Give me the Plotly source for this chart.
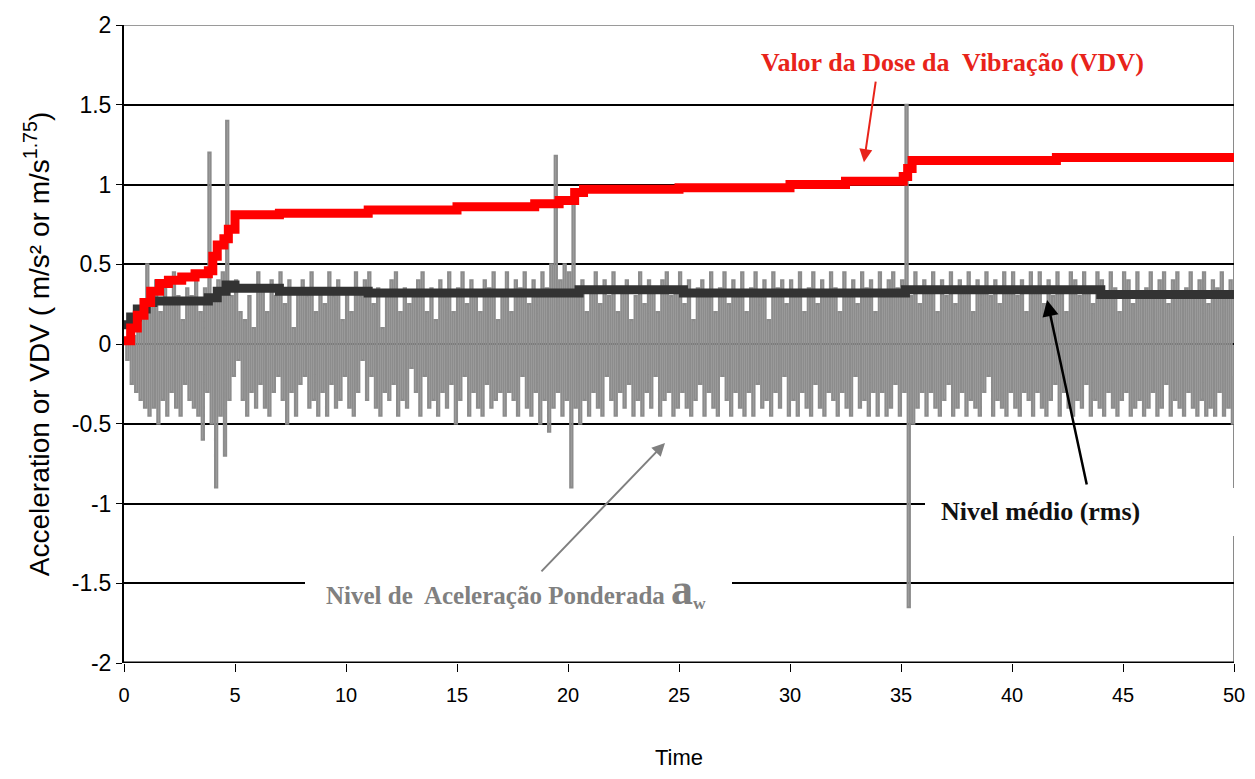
import numpy as np
import plotly.graph_objects as go

# ---- data ----
# weighted acceleration signal a_w, sampled every 0.1 s from 0 to 50 s
acc_values = [
    0.0, -0.1, 0.1, -0.25, 0.05, -0.3, 0.15, -0.35, 0.2, -0.4,
    0.5, -0.45, 0.3, -0.4, 0.4, -0.5, 0.2, -0.35, 0.35, -0.45,
    0.25, -0.3, 0.45, -0.4, 0.3, -0.45, 0.15, -0.25, 0.35, -0.35,
    0.3, -0.4, 0.4, -0.45, 0.2, -0.6, 0.35, -0.3, 1.2, -0.5,
    0.3, -0.9, 0.4, -0.45, 0.45, -0.7, 1.4, -0.35, 0.3, -0.2,
    0.4, -0.1, 0.2, -0.35, 0.15, -0.45, 0.3, -0.3, 0.1, -0.4,
    0.45, -0.25, 0.35, -0.4, 0.2, -0.45, 0.4, -0.3, 0.3, -0.2,
    0.45, -0.35, 0.25, -0.5, 0.4, -0.3, 0.1, -0.45, 0.35, -0.25,
    0.4, -0.2, 0.3, -0.4, 0.45, -0.35, 0.2, -0.45, 0.35, -0.3,
    0.25, -0.45, 0.45, -0.25, 0.3, -0.4, 0.4, -0.35, 0.15, -0.2,
    0.35, -0.4, 0.2, -0.45, 0.45, -0.3, 0.3, -0.1, 0.4, -0.35,
    0.45, -0.2, 0.25, -0.4, 0.35, -0.45, 0.1, -0.3, 0.3, -0.35,
    0.4, -0.25, 0.45, -0.45, 0.2, -0.35, 0.35, -0.4, 0.25, -0.15,
    0.3, -0.3, 0.4, -0.45, 0.45, -0.2, 0.2, -0.4, 0.35, -0.35,
    0.15, -0.45, 0.4, -0.3, 0.3, -0.4, 0.45, -0.25, 0.2, -0.5,
    0.35, -0.35, 0.45, -0.2, 0.25, -0.45, 0.4, -0.3, 0.3, -0.4,
    0.2, -0.45, 0.4, -0.25, 0.35, -0.4, 0.45, -0.35, 0.15, -0.3,
    0.3, -0.45, 0.45, -0.3, 0.2, -0.35, 0.4, -0.45, 0.35, -0.2,
    0.45, -0.4, 0.25, -0.45, 0.4, -0.3, 0.3, -0.5, 0.45, -0.35,
    0.35, -0.55, 0.5, -0.4, 1.18, -0.3, 0.4, -0.45, 0.5, -0.35,
    0.45, -0.9, 0.95, -0.4, 0.3, -0.5, 0.4, -0.35, 0.2, -0.45,
    0.35, -0.3, 0.45, -0.4, 0.25, -0.45, 0.4, -0.2, 0.3, -0.35,
    0.45, -0.45, 0.2, -0.3, 0.35, -0.4, 0.4, -0.25, 0.15, -0.45,
    0.3, -0.35, 0.45, -0.45, 0.25, -0.3, 0.4, -0.4, 0.35, -0.2,
    0.2, -0.45, 0.4, -0.35, 0.45, -0.3, 0.3, -0.45, 0.35, -0.4,
    0.45, -0.3, 0.25, -0.4, 0.4, -0.45, 0.15, -0.35, 0.35, -0.25,
    0.4, -0.45, 0.3, -0.3, 0.45, -0.4, 0.2, -0.45, 0.35, -0.2,
    0.45, -0.35, 0.25, -0.45, 0.4, -0.3, 0.3, -0.4, 0.45, -0.45,
    0.2, -0.3, 0.35, -0.45, 0.45, -0.25, 0.3, -0.4, 0.4, -0.35,
    0.15, -0.45, 0.45, -0.3, 0.35, -0.4, 0.4, -0.2, 0.25, -0.45,
    0.4, -0.35, 0.3, -0.45, 0.45, -0.3, 0.2, -0.4, 0.35, -0.45,
    0.45, -0.25, 0.25, -0.4, 0.4, -0.45, 0.3, -0.3, 0.45, -0.35,
    0.35, -0.45, 0.2, -0.3, 0.45, -0.4, 0.3, -0.45, 0.4, -0.2,
    0.25, -0.4, 0.45, -0.35, 0.35, -0.45, 0.4, -0.3, 0.2, -0.45,
    0.45, -0.3, 0.3, -0.45, 0.4, -0.4, 0.45, -0.25, 0.35, -0.45,
    0.4, -0.3, 1.5, -1.65, 0.3, -0.5, 0.45, -0.4, 0.25, -0.3,
    0.4, -0.45, 0.35, -0.3, 0.45, -0.4, 0.2, -0.45, 0.4, -0.35,
    0.3, -0.25, 0.45, -0.45, 0.25, -0.4, 0.4, -0.3, 0.35, -0.45,
    0.45, -0.35, 0.2, -0.4, 0.4, -0.45, 0.35, -0.3, 0.45, -0.2,
    0.3, -0.45, 0.4, -0.35, 0.25, -0.4, 0.45, -0.45, 0.35, -0.3,
    0.45, -0.4, 0.3, -0.45, 0.4, -0.3, 0.2, -0.35, 0.45, -0.45,
    0.35, -0.3, 0.45, -0.4, 0.25, -0.45, 0.4, -0.35, 0.3, -0.25,
    0.45, -0.45, 0.35, -0.3, 0.2, -0.4, 0.45, -0.45, 0.4, -0.35,
    0.3, -0.4, 0.45, -0.25, 0.35, -0.45, 0.25, -0.35, 0.45, -0.4,
    0.4, -0.45, 0.3, -0.3, 0.45, -0.4, 0.35, -0.45, 0.2, -0.35,
    0.45, -0.3, 0.4, -0.45, 0.25, -0.4, 0.45, -0.35, 0.3, -0.45,
    0.35, -0.4, 0.45, -0.3, 0.3, -0.45, 0.4, -0.4, 0.45, -0.25,
    0.25, -0.45, 0.4, -0.35, 0.45, -0.4, 0.3, -0.45, 0.35, -0.3,
    0.45, -0.4, 0.3, -0.45, 0.4, -0.35, 0.45, -0.45, 0.25, -0.4,
    0.4, -0.45, 0.35, -0.3, 0.45, -0.45, 0.3, -0.4, 0.4, -0.5,
    -0.2,
]
acc_time = np.linspace(0, 50, len(acc_values))

vdv_time = [0, 0.3, 0.6, 0.9, 1.2, 1.6, 2.0, 2.6, 3.2, 3.8, 4.0, 4.2, 4.5, 4.7, 5.0,
            7.0, 11.0, 15.0, 18.5, 19.6, 20.3, 20.7, 25.0, 30.0, 32.5, 35.1, 35.3, 35.5, 42.0, 50.0]
vdv_values = [0.02, 0.1, 0.18, 0.26, 0.33, 0.38, 0.4, 0.42, 0.44, 0.46, 0.55, 0.62, 0.66, 0.72, 0.81,
              0.82, 0.84, 0.86, 0.88, 0.9, 0.95, 0.97, 0.98, 1.0, 1.02, 1.05, 1.1, 1.15, 1.17, 1.17]

rms_time = [0, 0.3, 0.6, 1.0, 1.3, 3.8, 4.2, 4.6, 5.0, 7.0, 11.0, 20.5, 25.2, 35.2, 44.0, 50.0]
rms_values = [0.12, 0.17, 0.22, 0.26, 0.27, 0.29, 0.33, 0.37, 0.35, 0.33, 0.32, 0.34, 0.32, 0.34, 0.31, 0.31]

x_ticks = list(range(0, 51, 5))
y_ticks = [2, 1.5, 1, 0.5, 0, -0.5, -1, -1.5, -2]
y_tick_labels = ["2", "1.5", "1", "0.5", "0", "-0.5", "-1", "-1.5", "-2"]

SERIF = "Liberation Serif, Times New Roman, serif"
SANS = "Liberation Sans, Arial, sans-serif"

# page geometry (the figure sits 8px inside the page because of the body margin)
W, H = 1239, 762
PL, PR, PT, PB = 124, 1234, 25, 663


def px(xp):
    return (xp - PL) / (PR - PL)


def py(yp):
    return (PB - yp) / (PB - PT)


fig = go.Figure()
fig.add_trace(go.Scatter(x=acc_time, y=acc_values, mode="lines", line_shape="hv",
                         line=dict(color="#8c8c8c", width=2.1), showlegend=False))
fig.add_trace(go.Scatter(x=rms_time, y=rms_values, mode="lines", line_shape="hv",
                         line=dict(color="#333333", width=9), showlegend=False))
fig.add_trace(go.Scatter(x=vdv_time, y=vdv_values, mode="lines", line_shape="hv",
                         line=dict(color="#ff0000", width=9), showlegend=False))

fig.update_layout(
    width=W, height=H,
    margin=dict(l=PL - 8, r=W + 8 - PR, t=PT - 8, b=H + 8 - PB),
    paper_bgcolor="white", plot_bgcolor="white",
    font=dict(family=SANS, size=20, color="black"),
)
fig.update_xaxes(
    range=[0, 50], tickvals=x_ticks, ticks="outside", ticklen=8, tickcolor="black",
    showgrid=False, zeroline=False, showline=False, ticklabelstandoff=6, automargin=False,
    ticklabeloverflow="allow",
    tickfont=dict(size=20), title=dict(text="Time", font=dict(size=22), standoff=44),
)
fig.update_yaxes(
    range=[-2, 2], tickvals=y_ticks, ticktext=y_tick_labels, ticks="outside", ticklen=6,
    tickcolor="black", showgrid=True, gridcolor="black", gridwidth=2, automargin=False,
    zeroline=False, showline=True, linecolor="black", linewidth=2,
    tickfont=dict(size=23),
    title=dict(text="Acceleration or VDV ( m/s² or m/s<sup>1.75</sup>)", font=dict(size=28), standoff=14),
)

# right border of plot area
fig.add_shape(type="line", xref="x", yref="y", x0=50, x1=50, y0=-2, y1=2,
              line=dict(color="#8a8a8a", width=2), layer="below")
# lighter top border line and thicker bottom line
fig.add_shape(type="line", xref="x", yref="y", x0=0, x1=50, y0=2, y1=2,
              line=dict(color="#9a9a9a", width=2), layer="above")
fig.add_shape(type="line", xref="x", yref="y", x0=0, x1=50, y0=-2, y1=-2,
              line=dict(color="black", width=3), layer="above")

# white label boxes
fig.add_shape(type="rect", xref="paper", yref="paper",
              x0=px(925), x1=px(1250), y0=py(536), y1=py(488),
              fillcolor="white", line=dict(width=0), layer="above")
fig.add_shape(type="rect", xref="paper", yref="paper",
              x0=px(305), x1=px(732), y0=py(610), y1=py(565),
              fillcolor="white", line=dict(width=0), layer="above")

fig.add_annotation(x=px(952), y=py(62), xref="paper", yref="paper", xanchor="center", yanchor="middle",
                   text="<b>Valor da Dose da  Vibração (VDV)</b>", showarrow=False,
                   font=dict(family=SERIF, size=26, color="#e8231a"), bgcolor="white")
fig.add_annotation(x=px(1040), y=py(511), xref="paper", yref="paper", xanchor="center", yanchor="middle",
                   text="<b>Nivel médio (rms)</b>", showarrow=False,
                   font=dict(family=SERIF, size=26, color="#111111"))
fig.add_annotation(x=px(516), y=py(589), xref="paper", yref="paper", xanchor="center", yanchor="middle",
                   text="<b>Nivel de  Aceleração Ponderada <span style='font-size:44px'>a</span><sub>w</sub></b>",
                   showarrow=False, font=dict(family=SERIF, size=25, color="#808080"))

# arrows
fig.add_annotation(x=33.33, y=1.14, xref="x", yref="y", ax=12, ay=-82, text="",
                   showarrow=True, arrowhead=2, arrowsize=1.3, arrowwidth=2, arrowcolor="#e8231a")
fig.add_annotation(x=41.58, y=0.276, xref="x", yref="y", ax=40, ay=186, text="",
                   showarrow=True, arrowhead=2, arrowsize=1.3, arrowwidth=2.5, arrowcolor="black")
fig.add_annotation(x=24.37, y=-0.62, xref="x", yref="y", ax=-125, ay=130, text="",
                   showarrow=True, arrowhead=2, arrowsize=1.3, arrowwidth=2, arrowcolor="#808080")

fig.write_html("out.html")
